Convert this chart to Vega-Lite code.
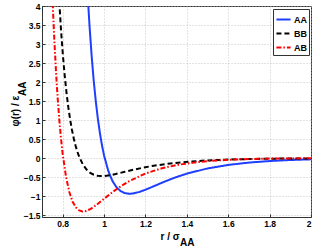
{
  "$schema": "https://vega.github.io/schema/vega-lite/v6.json",
  "autosize": {"type": "none"},
  "width": 269,
  "height": 211,
  "padding": {"left": 42, "top": 6, "right": 5, "bottom": 30},
  "background": "white",
  "config": {
    "font": "Liberation Sans",
    "view": {"stroke": "#333333", "strokeWidth": 1},
    "axis": {
      "labelFont": "Liberation Sans",
      "labelFontWeight": "bold",
      "labelFontSize": 8.5,
      "labelColor": "#000000",
      "titleFont": "Liberation Sans",
      "titleFontWeight": "bold",
      "titleFontSize": 10,
      "titleColor": "#000000",
      "domainColor": "#333333",
      "tickColor": "#333333",
      "tickSize": -3,
      "labelPadding": 5,
      "grid": true,
      "gridColor": "#b8b8b8",
      "gridDash": [1, 2],
      "gridWidth": 0.8
    },
    "legend": {
      "orient": "top-right",
      "offset": 2.5,
      "padding": 2,
      "strokeColor": "#333333",
      "fillColor": "#ffffff",
      "symbolType": "stroke",
      "symbolSize": 200,
      "symbolStrokeWidth": 2,
      "labelFont": "Liberation Sans",
      "labelFontWeight": "bold",
      "labelFontSize": 9,
      "labelColor": "#000000",
      "labelOffset": 2,
      "rowPadding": 0
    }
  },
  "data": {
    "values": [
      {"pair": "AA", "r": 0.92, "phi": 4.3605},
      {"pair": "AA", "r": 0.93, "phi": 3.4505},
      {"pair": "AA", "r": 0.94, "phi": 2.6836},
      {"pair": "AA", "r": 0.95, "phi": 2.0377},
      {"pair": "AA", "r": 0.96, "phi": 1.4946},
      {"pair": "AA", "r": 0.97, "phi": 1.0389},
      {"pair": "AA", "r": 0.98, "phi": 0.6575},
      {"pair": "AA", "r": 0.99, "phi": 0.3393},
      {"pair": "AA", "r": 1.0, "phi": 0.0748},
      {"pair": "AA", "r": 1.02, "phi": -0.3239},
      {"pair": "AA", "r": 1.04, "phi": -0.5897},
      {"pair": "AA", "r": 1.06, "phi": -0.7595},
      {"pair": "AA", "r": 1.08, "phi": -0.8605},
      {"pair": "AA", "r": 1.1, "phi": -0.9125},
      {"pair": "AA", "r": 1.12, "phi": -0.9297},
      {"pair": "AA", "r": 1.14, "phi": -0.9228},
      {"pair": "AA", "r": 1.17, "phi": -0.8833},
      {"pair": "AA", "r": 1.2, "phi": -0.824},
      {"pair": "AA", "r": 1.25, "phi": -0.7087},
      {"pair": "AA", "r": 1.3, "phi": -0.5939},
      {"pair": "AA", "r": 1.35, "phi": -0.4905},
      {"pair": "AA", "r": 1.4, "phi": -0.4015},
      {"pair": "AA", "r": 1.5, "phi": -0.265},
      {"pair": "AA", "r": 1.6, "phi": -0.1728},
      {"pair": "AA", "r": 1.7, "phi": -0.1114},
      {"pair": "AA", "r": 1.8, "phi": -0.0706},
      {"pair": "AA", "r": 1.9, "phi": -0.0435},
      {"pair": "AA", "r": 2.0, "phi": -0.0257},

      {"pair": "BB", "r": 0.7788, "phi": 4.5407},
      {"pair": "BB", "r": 0.792, "phi": 3.3574},
      {"pair": "BB", "r": 0.8008, "phi": 2.7192},
      {"pair": "BB", "r": 0.8096, "phi": 2.1803},
      {"pair": "BB", "r": 0.8184, "phi": 1.7253},
      {"pair": "BB", "r": 0.8272, "phi": 1.3418},
      {"pair": "BB", "r": 0.836, "phi": 1.0189},
      {"pair": "BB", "r": 0.8448, "phi": 0.7473},
      {"pair": "BB", "r": 0.8536, "phi": 0.5195},
      {"pair": "BB", "r": 0.8624, "phi": 0.3288},
      {"pair": "BB", "r": 0.8712, "phi": 0.1697},
      {"pair": "BB", "r": 0.88, "phi": 0.0374},
      {"pair": "BB", "r": 0.8976, "phi": -0.162},
      {"pair": "BB", "r": 0.9152, "phi": -0.2949},
      {"pair": "BB", "r": 0.9328, "phi": -0.3798},
      {"pair": "BB", "r": 0.9504, "phi": -0.4303},
      {"pair": "BB", "r": 0.968, "phi": -0.4563},
      {"pair": "BB", "r": 0.9856, "phi": -0.4649},
      {"pair": "BB", "r": 1.0032, "phi": -0.4614},
      {"pair": "BB", "r": 1.0296, "phi": -0.4417},
      {"pair": "BB", "r": 1.056, "phi": -0.412},
      {"pair": "BB", "r": 1.1, "phi": -0.3544},
      {"pair": "BB", "r": 1.144, "phi": -0.297},
      {"pair": "BB", "r": 1.188, "phi": -0.2453},
      {"pair": "BB", "r": 1.232, "phi": -0.2008},
      {"pair": "BB", "r": 1.32, "phi": -0.1325},
      {"pair": "BB", "r": 1.408, "phi": -0.0864},
      {"pair": "BB", "r": 1.496, "phi": -0.0557},
      {"pair": "BB", "r": 1.584, "phi": -0.0353},
      {"pair": "BB", "r": 1.672, "phi": -0.0218},
      {"pair": "BB", "r": 1.76, "phi": -0.0129},
      {"pair": "BB", "r": 1.848, "phi": -0.0071},
      {"pair": "BB", "r": 1.936, "phi": -0.0035},
      {"pair": "BB", "r": 2.0, "phi": -0.0018},

      {"pair": "AB", "r": 0.744, "phi": 5.1758},
      {"pair": "AB", "r": 0.752, "phi": 4.0254},
      {"pair": "AB", "r": 0.76, "phi": 3.0566},
      {"pair": "AB", "r": 0.768, "phi": 2.2419},
      {"pair": "AB", "r": 0.776, "phi": 1.5584},
      {"pair": "AB", "r": 0.784, "phi": 0.9863},
      {"pair": "AB", "r": 0.792, "phi": 0.509},
      {"pair": "AB", "r": 0.8, "phi": 0.1122},
      {"pair": "AB", "r": 0.816, "phi": -0.4859},
      {"pair": "AB", "r": 0.832, "phi": -0.8846},
      {"pair": "AB", "r": 0.848, "phi": -1.1393},
      {"pair": "AB", "r": 0.864, "phi": -1.2908},
      {"pair": "AB", "r": 0.88, "phi": -1.3688},
      {"pair": "AB", "r": 0.896, "phi": -1.3946},
      {"pair": "AB", "r": 0.912, "phi": -1.3842},
      {"pair": "AB", "r": 0.936, "phi": -1.325},
      {"pair": "AB", "r": 0.96, "phi": -1.236},
      {"pair": "AB", "r": 1.0, "phi": -1.0631},
      {"pair": "AB", "r": 1.04, "phi": -0.8909},
      {"pair": "AB", "r": 1.08, "phi": -0.7358},
      {"pair": "AB", "r": 1.12, "phi": -0.6023},
      {"pair": "AB", "r": 1.2, "phi": -0.3975},
      {"pair": "AB", "r": 1.28, "phi": -0.2592},
      {"pair": "AB", "r": 1.36, "phi": -0.1671},
      {"pair": "AB", "r": 1.44, "phi": -0.1059},
      {"pair": "AB", "r": 1.52, "phi": -0.0653},
      {"pair": "AB", "r": 1.6, "phi": -0.0386},
      {"pair": "AB", "r": 1.68, "phi": -0.0213},
      {"pair": "AB", "r": 1.76, "phi": -0.0105},
      {"pair": "AB", "r": 1.84, "phi": -0.0041},
      {"pair": "AB", "r": 1.92, "phi": -0.0009},
      {"pair": "AB", "r": 2.0, "phi": 0.0}
    ]
  },
  "mark": {"type": "line", "clip": true, "strokeWidth": 2},
  "encoding": {
    "x": {
      "field": "r",
      "type": "quantitative",
      "scale": {"domain": [0.7, 2], "nice": false, "zero": false},
      "axis": {
        "values": [0.8, 1, 1.2, 1.4, 1.6, 1.8, 2],
        "format": "~g",
        "title": ["r / σ", "\u200b\u2007\u2007\u2007\u00a0AA"],
        "titleAlign": "left",
        "titleAnchor": "start",
        "titleBaseline": "alphabetic",
        "titleX": 118,
        "titleY": 22,
        "titleLineHeight": 6
      }
    },
    "y": {
      "field": "phi",
      "type": "quantitative",
      "scale": {"domain": [-1.54, 4], "nice": false, "zero": false},
      "axis": {
        "values": [-1.5, -1, -0.5, 0, 0.5, 1, 1.5, 2, 2.5, 3, 3.5, 4],
        "format": "~g",
        "title": ["φ(r) / ε", "\u200b\u2007\u2007\u2007\u2007\u2007\u00a0AA"],
        "titleAlign": "left",
        "titleAnchor": "start",
        "titleBaseline": "alphabetic",
        "titleAngle": -90,
        "titleX": -24,
        "titleY": 120,
        "titleLineHeight": 7
      }
    },
    "color": {
      "field": "pair",
      "type": "nominal",
      "scale": {"domain": ["AA", "BB", "AB"], "range": ["#1f3fff", "#000000", "#ff0000"]},
      "legend": {"title": null}
    },
    "strokeDash": {
      "field": "pair",
      "type": "nominal",
      "scale": {"domain": ["AA", "BB", "AB"], "range": [[1, 0], [5, 3], [5, 2, 1.5, 2]]},
      "legend": {"title": null}
    }
  }
}
